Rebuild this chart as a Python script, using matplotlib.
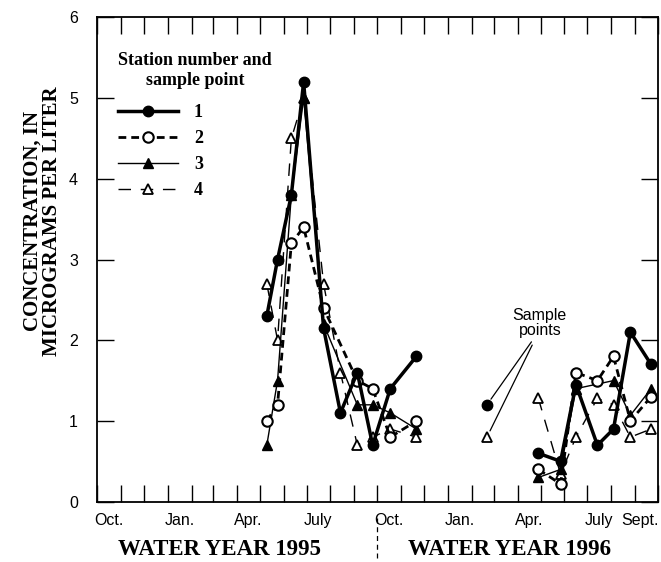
import numpy as np
import matplotlib
matplotlib.use("Agg")
import matplotlib.pyplot as plt
import matplotlib.dates as mdates
from matplotlib.lines import Line2D

# Sampling dates, grouped into the runs that are joined by lines
dates_summer1995 = ["1995-05-10", "1995-05-24", "1995-06-11", "1995-06-27", "1995-07-23",
                    "1995-08-14", "1995-09-05", "1995-09-25", "1995-10-18", "1995-11-21"]
dates_feb1996 = ["1996-02-21"]
dates_summer1996 = ["1996-04-28", "1996-05-27", "1996-06-16", "1996-07-14",
                    "1996-08-04", "1996-08-26", "1996-09-22"]

nan = np.nan
# Concentration, in micrograms per liter, by station / sample point
st1_1995 = [2.3, 3.0, 3.8, 5.2, 2.15, 1.1, 1.6, 0.7, 1.4, 1.8]
st2_1995 = [1.0, 1.2, 3.2, 3.4, 2.4, nan, 1.5, 1.4, 0.8, 1.0]
st3_1995 = [0.7, 1.5, 3.8, 5.0, 2.2, nan, 1.2, 1.2, 1.1, 0.9]
st4_1995 = [2.7, 2.0, 4.5, 5.0, 2.7, 1.6, 0.7, 0.8, 0.9, 0.8]

st1_feb = [1.2]
st2_feb = [nan]
st3_feb = [nan]
st4_feb = [0.8]

st1_1996 = [0.6, 0.5, 1.45, 0.7, 0.9, 2.1, 1.7]
st2_1996 = [0.4, 0.22, 1.6, 1.5, 1.8, 1.0, 1.3]
st3_1996 = [0.3, 0.4, 1.4, nan, 1.5, 1.07, 1.4]
st4_1996 = [1.28, 0.34, 0.8, 1.28, 1.2, 0.8, 0.9]

station_labels = ["1", "2", "3", "4"]

# Month labels on the time axis, centred in the middle of each month
month_label_text = ["Oct.", "Jan.", "Apr.", "July", "Oct.", "Jan.", "Apr.", "July", "Sept."]
month_label_dates = ["1994-10-16", "1995-01-16", "1995-04-16", "1995-07-16", "1995-10-16",
                     "1996-01-16", "1996-04-16", "1996-07-16", "1996-09-08"]

SANS = "Liberation Sans"
SERIF = "Liberation Serif"


def to_num(ds):
    return mdates.datestr2num(ds)


styles = {
    "1": dict(color="black", lw=2.5, ls="-", marker="o", mfc="black", mec="black", ms=7.5, mew=1.0, zorder=6),
    "2": dict(color="black", lw=2.0, ls=(0, (2.8, 1.8)), marker="o", mfc="white", mec="black", ms=7.5, mew=1.5, zorder=5),
    "3": dict(color="black", lw=1.0, ls="-", marker="^", mfc="black", mec="black", ms=7.5, mew=1.0, zorder=4),
    "4": dict(color="black", lw=1.0, ls=(0, (9.0, 7.0)), marker="^", mfc="white", mec="black", ms=7.5, mew=1.3, zorder=3),
}

series = {
    "1": [st1_1995, st1_feb, st1_1996],
    "2": [st2_1995, st2_feb, st2_1996],
    "3": [st3_1995, st3_feb, st3_1996],
    "4": [st4_1995, st4_feb, st4_1996],
}
runs = [dates_summer1995, dates_feb1996, dates_summer1996]

fig = plt.figure(figsize=(6.61, 5.62), dpi=100)
W, H = 661.0, 562.0
x0, x1, ytop, ybot = 97.3, 658.0, 17.3, 501.7
ax = fig.add_axes([x0 / W, 1 - ybot / H, (x1 - x0) / W, (ybot - ytop) / H])

for key in ["4", "3", "2", "1"]:
    for dates, vals in zip(runs, series[key]):
        x = to_num(dates)
        v = np.asarray(vals, dtype=float)
        ok = ~np.isnan(v)
        if ok.any():
            ax.plot(x[ok], v[ok], **styles[key])

ax.set_xlim(to_num(["1994-10-01"])[0], to_num(["1996-10-01"])[0])
ax.set_ylim(0, 6)

# Monthly tick marks on top and bottom, pointing inward
ax.xaxis.set_major_locator(mdates.MonthLocator())
ax.xaxis.set_major_formatter(plt.NullFormatter())
ax.xaxis.set_minor_locator(matplotlib.ticker.FixedLocator(to_num(month_label_dates)))
ax.xaxis.set_minor_formatter(matplotlib.ticker.FixedFormatter(month_label_text))
ax.tick_params(axis="x", which="major", direction="in", length=12, width=1.0, top=True, bottom=True)
ax.tick_params(axis="x", which="minor", length=0, pad=8, labelsize=11.5)
ax.set_yticks(range(0, 7))
ax.tick_params(axis="y", which="major", direction="in", length=12, width=1.0, left=True, right=True,
               pad=14, labelsize=11.5)
for lab in ax.get_xticklabels(minor=True) + ax.get_yticklabels():
    lab.set_fontfamily(SANS)

for sp in ax.spines.values():
    sp.set_linewidth(1.3)

# Legend
handles = [Line2D([], [], **{k: v for k, v in styles[s].items() if k != "zorder"}) for s in station_labels]
leg = ax.legend(handles, station_labels, title="Station number and\nsample point",
                loc="upper left", bbox_to_anchor=(0.008, 0.962), frameon=False,
                prop=dict(family=SERIF, weight="bold", size=13),
                handlelength=3.3, handletextpad=0.9, labelspacing=0.5, alignment="left")
leg.get_title().set_fontfamily(SERIF)
leg.get_title().set_fontweight("bold")
leg.get_title().set_fontsize(13)
leg.get_title().set_multialignment("center")
leg._legend_box.sep = 11

# Callout pointing at the isolated February 1996 samples
txt_x = to_num(["1996-04-30"])[0]
ax.text(txt_x, 2.21, "Sample\npoints", ha="center", va="center", fontsize=11.5,
        family=SANS, linespacing=1.0)
feb_x = to_num(dates_feb1996)[0]
ax.annotate("", xy=(feb_x, st1_feb[0]), xytext=(to_num(["1996-04-19"])[0], 1.98),
            arrowprops=dict(arrowstyle="-", lw=0.9, color="black", shrinkA=0, shrinkB=5))
ax.annotate("", xy=(feb_x, st4_feb[0]), xytext=(to_num(["1996-04-20"])[0], 1.94),
            arrowprops=dict(arrowstyle="-", lw=0.9, color="black", shrinkA=0, shrinkB=5))

# Axis title and water-year captions
fig.text(42 / W, 1 - 221 / H, "CONCENTRATION, IN\nMICROGRAMS PER LITER", rotation=90,
         ha="center", va="center", family=SERIF, weight="bold", fontsize=15,
         multialignment="center", linespacing=0.95)
fig.text(219 / W, 1 - 555 / H, "WATER YEAR 1995", ha="center", va="baseline",
         family=SERIF, weight="bold", fontsize=16.5)
fig.text(509 / W, 1 - 555 / H, "WATER YEAR 1996", ha="center", va="baseline",
         family=SERIF, weight="bold", fontsize=16.5)
fig.add_artist(Line2D([376.8 / W, 376.8 / W], [1 - 518 / H, 0.0], transform=fig.transFigure,
                      color="black", lw=0.9, ls=(0, (4, 3))))

fig.savefig("out.png", dpi=100)
